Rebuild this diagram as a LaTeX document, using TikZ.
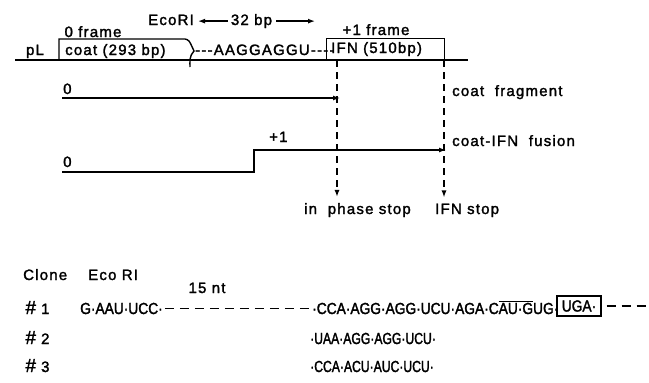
\documentclass[tikz,border=0pt]{standalone}
\usepackage{fontspec}
\setmainfont{Liberation Sans}
\newfontfamily\widefont{Liberation Sans}[LetterSpace=8,FakeBold=1.8]
\newfontfamily\seqfont{Liberation Sans}[FakeStretch=0.86,FakeBold=1.8]
\newfontfamily\seqnarrow{Liberation Sans}[FakeStretch=0.76,FakeBold=1.8]
\usetikzlibrary{arrows.meta,positioning,calc}
\newcommand{\clonehash}{{\fontsize{19}{19}\selectfont\itshape\#}}

\begin{document}
\begin{tikzpicture}[
  x=1pt,y=-1pt,
  >={Latex[length=7pt,width=5pt]},
  lab/.style={inner sep=0pt,font=\widefont\fontsize{15}{15}\selectfont},
  seq/.style={inner sep=0pt,anchor=base west,font=\seqfont\fontsize{16}{16}\selectfont},
  seqshort/.style={seq,font=\seqnarrow\fontsize{16}{16}\selectfont},
  mapline/.style={line width=1.4pt},
  genebox/.style={draw,line width=1.4pt,inner sep=0pt,minimum height=21pt,anchor=south west},
  readarrow/.style={->,line width=1.3pt},
  stopline/.style={->,line width=1.3pt,dash pattern=on 7pt off 5pt},
  seqgap/.style={line width=1.3pt,dash pattern=on 9pt off 6pt},
]
\useasboundingbox (0,0) rectangle (649,383);
% ---- EcoRI span above the map ----
\node[lab,anchor=base west] (eco) at (148,25) {EcoRI};
\node[lab,anchor=base] (span) at (251.5,25) {32 bp};
\coordinate (spanR) at (315,20);
\draw[readarrow,shorten <=3pt,shorten >=4pt] (span.west) -- (span.west -| eco.east);
\draw[readarrow,shorten <=4pt] (span.east) -- (span.east -| spanR);
\node[lab,anchor=base] (f0) at (93,37) {0 frame};
\node[lab,anchor=base] (f1) at (376,35) {+1 frame};
% ---- pL map with coat and IFN genes ----
\coordinate (mapL) at (15,60);
\coordinate (mapR) at (468,60);
\draw[mapline] (mapL) -- (mapR);
\node[lab,anchor=base] (pL) at (35,55) {pL};
\node[lab,anchor=base west] (coattxt) at (65,55) {coat (293 bp)};
\coordinate (coatSW) at (59,60);
\coordinate (coatNE) at (185,39);
\draw[mapline] (coatSW) |- (coatNE) .. controls (189,40) .. (194,51)
  .. controls (189,56) and (190,62) .. (190,67);
\node[lab,anchor=base west] (rbs) at (195,55) {-{}-{}-AAGGAGGU-{}-{}-{}-};
\node[genebox,minimum width=118pt] (ifn) at (326,60) {};
\node[lab,anchor=base west] (ifntxt) at (331,53) {IFN (510bp)};
% ---- stop codons (dashed drops) ----
\coordinate (stopA) at (337,60);
\coordinate (stopB) at (444,60);
\node[lab,anchor=base] (phase) at (357.5,214) {in\ \ phase stop};
\node[lab,anchor=base west] (ifnstop) at (435,214) {IFN stop};
\draw[stopline,shorten >=6pt] (stopA) -- (stopA |- phase.north);
\draw[stopline,shorten >=6pt] (stopB) -- (stopB |- ifnstop.north);
% ---- reading frames ----
\coordinate (r1s) at (62,98);
\coordinate (r1e) at (340,98);
\draw[readarrow] (r1s) -- (r1e);
\node[lab,anchor=base west] (zeroA) at (63,94) {0};
\node[lab,anchor=base west] (frag) at (452,96) {coat\ \ fragment};
\coordinate (r2s) at (62,172);
\coordinate (shift) at (254,172);
\coordinate (r2e) at (446,150);
\draw[readarrow] (r2s) -- (shift) |- (r2e);
\node[lab,anchor=base west] (zeroB) at (63,167) {0};
\node[lab,anchor=base west] (plusone) at (269,142) {+1};
\node[lab,anchor=base west] (fusion) at (452,146) {coat-IFN\ \ fusion};
% ---- clone sequences ----
\node[lab,anchor=base west] (clone) at (23,280) {Clone};
\node[lab,anchor=base west] (ecori) at (88,280) {Eco RI};
\node[lab,anchor=base] (nt) at (207,293) {15 nt};
\node[lab,anchor=base west] (c1) at (25,314) {\clonehash\ 1};
\node[seq] (s1a) at (80,314) {G·AAU·UCC·};
\node[seq] (s1b) at (312,314) {·CCA·AGG·AGG·UCU·AGA·C$\overline{\mbox{AU·G}}$UG·};
\node[seq,anchor=center,draw,line width=1.3pt,minimum width=44pt,minimum height=20pt] (uga) at (579,306) {UGA·};
\coordinate (s1end) at (648,306);
\draw[seqgap,shorten <=2pt,shorten >=2pt] (s1a.east) -- (s1a.east -| s1b.west);
\draw[seqgap,shorten <=5pt] (uga.east) -- (uga.east -| s1end);
\node[lab,anchor=base west] (c2) at (25,344) {\clonehash\ 2};
\node[seqshort] (s2) at (310,344) {·UAA·AGG·AGG·UCU·};
\node[lab,anchor=base west] (c3) at (25,372) {\clonehash\ 3};
\node[seqshort] (s3) at (310,372) {·CCA·ACU·AUC·UCU·};
\end{tikzpicture}
\end{document}
